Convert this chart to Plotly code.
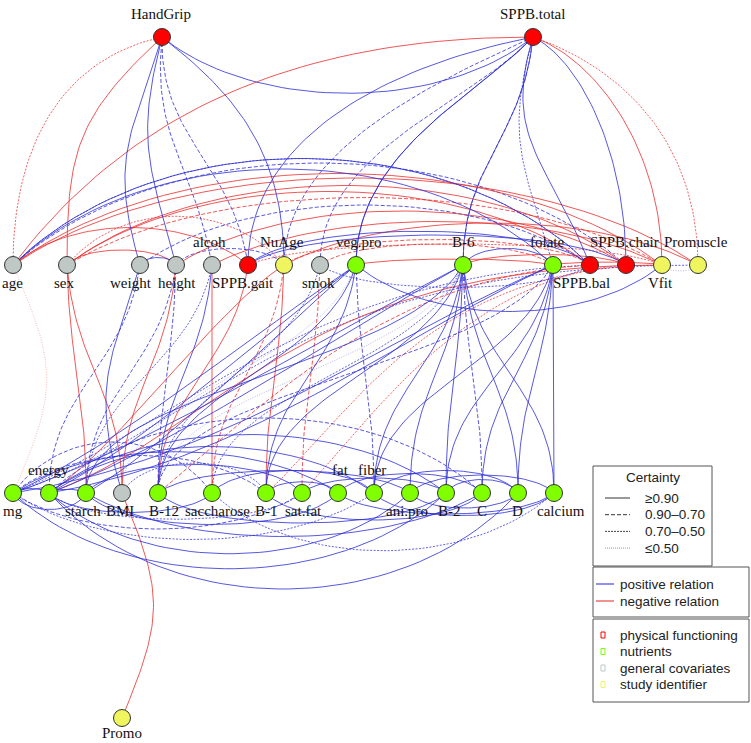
import numpy as np
import plotly.graph_objects as go

# ---------------- data ----------------
NODES = ["HandGrip", "SPPB.total",
         "age", "sex", "weight", "height", "alcoh", "SPPB.gait", "NuAge", "smok",
         "veg.pro", "B-6", "folate", "SPPB.bal", "SPPB.chair", "Vfit", "Promuscle",
         "mg", "energy", "starch", "BMI", "B-12", "saccharose", "B-1", "sat.fat",
         "fat", "fiber", "ani.pro", "B-2", "C", "D", "calcium", "Promo"]
NODE_GROUP = ["pf", "pf",
              "cov", "cov", "cov", "cov", "cov", "pf", "study", "cov",
              "nut", "nut", "nut", "pf", "pf", "study", "study",
              "nut", "nut", "nut", "cov", "nut", "nut", "nut", "nut",
              "nut", "nut", "nut", "nut", "nut", "nut", "nut", "study"]
# layout coordinates of the network drawing
NODE_X = [162, 533,
          13, 67, 140, 176, 212, 248, 284, 320, 356, 463, 553, 590, 626, 662, 698,
          13, 49, 86, 122, 158, 212, 266, 302, 338, 374, 410, 446, 482, 518, 554, 122]
NODE_Y = [37, 37] + [265] * 15 + [493] * 15 + [718]
LABEL_SIDE = ["top", "top",
              "bottom", "bottom", "bottom", "bottom", "top", "bottom", "top", "bottom",
              "top", "top", "top", "bottom", "top", "bottom", "top",
              "bottom", "top", "bottom", "bottom", "bottom", "bottom", "bottom", "bottom",
              "top", "top", "bottom", "bottom", "bottom", "bottom", "bottom", "bottom"]
LABEL_DX = [-1, -1,
            -1, -3, -9, 1, -3, -5, -2, -2, 2, 0, -6, -9, -2, -2, -2,
            0, -1, -3, -2, 6, 5, 0, 1, 2, -2, -3, 3, 0, -1, 7, 0]

# edges: from, to, sign (+1 positive / -1 negative), certainty class
# certainty class: 0 = >=0.90, 1 = 0.90-0.70, 2 = 0.70-0.50, 3 = <=0.50
EDGE_FROM = []
EDGE_TO = []
EDGE_SIGN = []
EDGE_CERT = []
_edges = [
    # HandGrip
    ("HandGrip", "age", -1, 2), ("HandGrip", "sex", -1, 0), ("HandGrip", "weight", 1, 0),
    ("HandGrip", "height", 1, 0), ("HandGrip", "alcoh", 1, 1), ("HandGrip", "SPPB.gait", 1, 1),
    ("HandGrip", "NuAge", 1, 0), ("HandGrip", "SPPB.total", 1, 0),
    # SPPB.total
    ("SPPB.total", "age", -1, 0), ("SPPB.total", "SPPB.gait", 1, 0), ("SPPB.total", "NuAge", 1, 1),
    ("SPPB.total", "smok", 1, 1), ("SPPB.total", "veg.pro", 1, 0), ("SPPB.total", "veg.pro", 1, 0),
    ("SPPB.total", "B-6", 1, 1), ("SPPB.total", "folate", 1, 2), ("SPPB.total", "SPPB.bal", 1, 0),
    ("SPPB.total", "SPPB.chair", 1, 0), ("SPPB.total", "Vfit", -1, 0), ("SPPB.total", "Promuscle", -1, 2),
    ("SPPB.total", "B-6", 1, 0),
    # middle row arcs
    ("age", "SPPB.bal", 1, 2), ("age", "SPPB.chair", 1, 1), ("age", "Vfit", -1, 0),
    ("age", "Promuscle", -1, 0), ("age", "SPPB.gait", -1, 0), ("age", "folate", 1, 0),
    ("age", "SPPB.bal", 1, 0), ("sex", "SPPB.chair", -1, 0), ("sex", "SPPB.bal", -1, 0),
    ("sex", "NuAge", -1, 2), ("sex", "Vfit", -1, 1), ("sex", "height", -1, 0),
    ("weight", "SPPB.bal", 1, 1), ("weight", "height", 1, 0), ("height", "SPPB.chair", -1, 0),
    ("alcoh", "Vfit", -1, 0), ("SPPB.gait", "SPPB.chair", 1, 0), ("SPPB.gait", "SPPB.bal", 1, 0),
    ("NuAge", "SPPB.bal", -1, 1), ("smok", "folate", -1, 1), ("veg.pro", "folate", -1, 0),
    ("B-6", "folate", 1, 0), ("veg.pro", "Vfit", 1, 0), ("smok", "SPPB.bal", 1, 2),
    ("folate", "Vfit", -1, 0), ("Vfit", "Promuscle", 1, 3), ("B-6", "SPPB.chair", -1, 0),
    ("NuAge", "Promuscle", -1, 0), ("SPPB.gait", "Vfit", -1, 2), ("height", "NuAge", 1, 1),
    # middle -> bottom
    ("age", "mg", -1, 3), ("sex", "starch", -1, 0), ("sex", "BMI", -1, 0),
    ("weight", "BMI", 1, 0), ("height", "BMI", -1, 0), ("height", "B-12", 1, 1),
    ("weight", "energy", 1, 1), ("height", "starch", 1, 1), ("alcoh", "B-12", 1, 0),
    ("SPPB.gait", "B-12", -1, 0), ("alcoh", "saccharose", -1, 0), ("NuAge", "saccharose", -1, 1),
    ("NuAge", "B-1", -1, 0), ("smok", "sat.fat", -1, 1), ("NuAge", "energy", -1, 0),
    ("Vfit", "energy", -1, 0), ("Vfit", "B-1", -1, 2), ("SPPB.bal", "B-12", -1, 1),
    ("veg.pro", "mg", 1, 0), ("veg.pro", "energy", 1, 0), ("veg.pro", "starch", 1, 0),
    ("veg.pro", "B-12", 1, 0), ("veg.pro", "fiber", 1, 1), ("veg.pro", "B-1", 1, 0),
    ("veg.pro", "BMI", 1, 3), ("smok", "B-12", 1, 2), ("alcoh", "starch", 1, 2),
    ("B-6", "mg", 1, 0), ("B-6", "energy", 1, 0), ("B-6", "starch", 1, 0),
    ("B-6", "B-12", 1, 3), ("B-6", "B-1", 1, 0), ("B-6", "fiber", 1, 0),
    ("B-6", "ani.pro", 1, 0), ("B-6", "B-2", 1, 0), ("B-6", "C", 1, 1),
    ("B-6", "D", 1, 0), ("B-6", "calcium", 1, 0), ("B-6", "saccharose", 1, 2),
    ("folate", "mg", 1, 0), ("folate", "energy", 1, 0), ("folate", "fiber", 1, 0),
    ("folate", "C", 1, 0), ("folate", "D", 1, 0), ("folate", "B-2", 1, 0),
    ("folate", "calcium", 1, 0), ("folate", "B-12", 1, 1), ("SPPB.bal", "mg", 1, 2),
    ("SPPB.chair", "sat.fat", -1, 2), ("Promuscle", "mg", 1, 2),
    # bottom row arcs (above)
    ("mg", "fat", 1, 0), ("energy", "fiber", 1, 0), ("energy", "C", 1, 1),
    ("starch", "sat.fat", 1, 0), ("mg", "B-1", 1, 1), ("energy", "B-2", 1, 0),
    ("B-12", "ani.pro", 1, 0), ("saccharose", "fiber", 1, 0), ("fat", "C", 1, 0),
    ("fiber", "D", 1, 0), ("ani.pro", "calcium", 1, 0), ("B-1", "fat", 1, 0),
    ("sat.fat", "B-2", 1, 0), ("B-2", "D", 1, 0), ("mg", "energy", 1, 0),
    ("energy", "starch", 1, 0), ("mg", "saccharose", 1, 1), ("BMI", "B-1", 1, 2),
    # bottom row arcs (below)
    ("energy", "D", 1, 0), ("mg", "B-2", 1, 0), ("energy", "ani.pro", 1, 0),
    ("saccharose", "calcium", 1, 2), ("starch", "C", 1, 0), ("mg", "starch", 1, 0),
    ("mg", "sat.fat", 1, 1), ("B-12", "B-2", 1, 0), ("fiber", "calcium", 1, 0),
    ("B-1", "C", 1, 0), ("fat", "calcium", 1, 0), ("mg", "fiber", 1, 2),
    ("energy", "saccharose", 1, 0), ("starch", "fat", 1, 0), ("energy", "sat.fat", 1, 2),
    ("ani.pro", "D", 1, 0),
    # Promo
    ("BMI", "Promo", -1, 0),
]
for _f, _t, _s, _c in _edges:
    EDGE_FROM.append(_f); EDGE_TO.append(_t); EDGE_SIGN.append(_s); EDGE_CERT.append(_c)

CERT_LABELS = ["≥0.90", "0.90–0.70", "0.70–0.50", "≤0.50"]
SIGN_LABELS = ["positive relation", "negative relation"]
GROUP_LABELS = ["physical functioning", "nutrients", "general covariates", "study identifier"]
GROUP_KEYS = ["pf", "nut", "cov", "study"]

# ---------------- styles ----------------
GROUP_COLOR = {"pf": "#FF0000", "nut": "#7FFF00", "cov": "#BFC8C4", "study": "#EEF55E"}
POS_COLOR = "rgba(45,45,215,{a})"
NEG_COLOR = "rgba(235,45,45,{a})"
CERT_DASH = ["solid", "4px,2px", "2px,1.5px", "1px,1.5px"]
CERT_ALPHA = [0.8, 0.8, 0.75, 0.35]

# curve shape overrides (a1, b1, a2, b2, u) for cross-row edges
SHAPE = {
    ("HandGrip", "age"): (0.7, 0.1, 0.0, 0.5, 0),
    ("HandGrip", "sex"): (0.9, 0.35, 0.0, 0.5, 0),
    ("HandGrip", "weight"): (0.15, 0.45, 0.0, 0.45, -30),
    ("HandGrip", "height"): (0.15, 0.45, 0.0, 0.45, -28),
    ("HandGrip", "alcoh"): (0.15, 0.45, 0.0, 0.45, -18),
    ("HandGrip", "SPPB.gait"): (0.15, 0.45, 0.0, 0.45, -15),
    ("HandGrip", "NuAge"): (0.6, 0.25, 0.0, 0.5, 0),
    ("SPPB.total", "age"): (0.5, 0.0, 0.2, 0.6, 0),
    ("SPPB.total", "SPPB.gait"): (0.6, 0.15, 0.0, 0.5, 0),
    ("SPPB.total", "NuAge"): (0.4, 0.2, 0.0, 0.5, 0),
    ("SPPB.total", "smok"): (0.3, 0.3, 0.0, 0.5, 0),
    ("SPPB.total", "veg.pro"): (0.3, 0.25, 0.0, 0.5, 0),
    ("SPPB.total", "SPPB.bal"): (0.15, 0.45, 0.0, 0.45, -40),
    ("SPPB.total", "SPPB.chair"): (0.5, 0.1, 0.0, 0.5, 0),
    ("SPPB.total", "Vfit"): (0.5, 0.1, 0.0, 0.5, 0),
    ("SPPB.total", "Promuscle"): (0.6, 0.15, 0.0, 0.5, 0),
    ("SPPB.total", "folate"): (0.1, 0.45, 0.0, 0.45, -30),
    ("age", "mg"): (0.0, 0.45, 0.0, 0.45, 45),
    ("weight", "BMI"): (0.15, 0.45, 0.0, 0.45, -30),
    ("BMI", "Promo"): (0.0, 0.45, 0.0, 0.45, 42),
    ("NuAge", "energy"): (0.3, 0.2, 0.3, 0.2, 0),
    ("Vfit", "energy"): (0.6, 0.0, 0.3, 0.3, 0),
    ("Vfit", "B-1"): (0.6, 0.0, 0.2, 0.3, 0),
    ("SPPB.bal", "mg"): (0.5, 0.05, 0.3, 0.3, 0),
    ("Promuscle", "mg"): (0.6, 0.0, 0.3, 0.3, 0),
    ("SPPB.bal", "B-12"): (0.5, 0.05, 0.2, 0.3, 0),
    ("SPPB.chair", "sat.fat"): (0.5, 0.05, 0.2, 0.3, 0),
    ("veg.pro", "mg"): (0.3, 0.3, 0.3, 0.2, 0),
    ("veg.pro", "energy"): (0.3, 0.3, 0.3, 0.2, 0),
    ("veg.pro", "starch"): (0.3, 0.3, 0.3, 0.2, 0),
    ("B-6", "mg"): (0.3, 0.3, 0.3, 0.2, 0),
    ("B-6", "energy"): (0.3, 0.3, 0.3, 0.2, 0),
    ("folate", "mg"): (0.3, 0.3, 0.4, 0.15, 0),
    ("folate", "energy"): (0.3, 0.3, 0.4, 0.15, 0),
}
# arc heights for same-row edges (positive = above, negative = below)
ARC_H = {
    ("HandGrip", "SPPB.total"): -75,
    ("age", "SPPB.bal"): 142, ("age", "SPPB.chair"): 136, ("age", "Vfit"): 122,
    ("age", "Promuscle"): 116, ("age", "SPPB.gait"): 50, ("age", "folate"): 128,
    ("sex", "SPPB.chair"): 106, ("sex", "SPPB.bal"): 98, ("sex", "NuAge"): 65,
    ("sex", "Vfit"): 90, ("sex", "height"): 20, ("weight", "SPPB.bal"): 80,
    ("weight", "height"): 10, ("height", "SPPB.chair"): 72, ("alcoh", "Vfit"): 58,
    ("SPPB.gait", "SPPB.chair"): 40, ("SPPB.gait", "SPPB.bal"): 45, ("NuAge", "SPPB.bal"): 34,
    ("smok", "folate"): 28, ("veg.pro", "folate"): 8, ("B-6", "folate"): 22,
    ("veg.pro", "Vfit"): -62, ("smok", "SPPB.bal"): -30, ("folate", "Vfit"): 4,
    ("Vfit", "Promuscle"): -8, ("B-6", "SPPB.chair"): 14, ("NuAge", "Promuscle"): 56,
    ("SPPB.gait", "Vfit"): 28, ("height", "NuAge"): 22,
    ("mg", "fat"): 55, ("energy", "fiber"): 62, ("energy", "C"): 100, ("starch", "sat.fat"): 38,
    ("mg", "B-1"): 50, ("energy", "B-2"): 78, ("B-12", "ani.pro"): 30, ("saccharose", "fiber"): 30,
    ("fat", "C"): 26, ("fiber", "D"): 30, ("ani.pro", "calcium"): 24, ("B-1", "fat"): 15,
    ("sat.fat", "B-2"): 20, ("B-2", "D"): 18, ("mg", "energy"): 6, ("energy", "starch"): 5,
    ("mg", "saccharose"): 68, ("BMI", "B-1"): 40,
    ("energy", "D"): -128, ("mg", "B-2"): -101, ("energy", "ani.pro"): -81,
    ("saccharose", "calcium"): -77, ("starch", "C"): -58, ("mg", "starch"): -22,
    ("mg", "sat.fat"): -48, ("B-12", "B-2"): -40, ("fiber", "calcium"): -30,
    ("B-1", "C"): -36, ("fat", "calcium"): -28, ("mg", "fiber"): -62,
    ("energy", "saccharose"): -26, ("starch", "fat"): -42, ("energy", "sat.fat"): -35,
    ("ani.pro", "D"): -20,
}

POS = {n: (x, y) for n, x, y in zip(NODES, NODE_X, NODE_Y)}


def bezier(p0, c1, c2, p3, n=48):
    t = np.linspace(0, 1, n)[:, None]
    pts = ((1 - t) ** 3) * np.array(p0) + 3 * ((1 - t) ** 2) * t * np.array(c1) \
        + 3 * (1 - t) * t ** 2 * np.array(c2) + t ** 3 * np.array(p3)
    return pts[:, 0], pts[:, 1]


def edge_curve(src, dst):
    x1, y1 = POS[src]
    x2, y2 = POS[dst]
    if abs(y1 - y2) < 1:
        h = ARC_H.get((src, dst), ARC_H.get((dst, src), 30))
        dx = x2 - x1
        k = 0.25 if abs(h) > 45 else 0.15
        c1 = (x1 + k * dx, y1 - h)
        c2 = (x2 - k * dx, y2 - h)
        return bezier((x1, y1), c1, c2, (x2, y2))
    key = (src, dst)
    if y1 > y2:
        src, dst = dst, src
        x1, y1, x2, y2 = x2, y2, x1, y1
    a1, b1, a2, b2, u = SHAPE.get(key, SHAPE.get((dst, src), (0.15, 0.45, 0.0, 0.45, 0)))
    dx, dy = x2 - x1, y2 - y1
    c1 = (x1 + a1 * dx + u, y1 + b1 * dy)
    c2 = (x2 - a2 * dx + u, y2 - b2 * dy)
    return bezier((x1, y1), c1, c2, (x2, y2))


fig = go.Figure()

# group edges by style
groups = {}
for f, t, s, c in zip(EDGE_FROM, EDGE_TO, EDGE_SIGN, EDGE_CERT):
    xs, ys = edge_curve(f, t)
    g = groups.setdefault((s, c), ([], []))
    g[0].extend(list(xs) + [None])
    g[1].extend(list(ys) + [None])

for (s, c), (xs, ys) in sorted(groups.items(), key=lambda kv: -kv[0][1]):
    col = (POS_COLOR if s > 0 else NEG_COLOR).format(a=CERT_ALPHA[c])
    fig.add_trace(go.Scatter(x=xs, y=ys, mode="lines", hoverinfo="skip",
                             line=dict(color=col, width=1.0, dash=CERT_DASH[c]),
                             showlegend=False))

# nodes
fig.add_trace(go.Scatter(
    x=NODE_X, y=NODE_Y, mode="markers", hoverinfo="text", text=NODES,
    marker=dict(size=17, color=[GROUP_COLOR[g] for g in NODE_GROUP],
                line=dict(color="#333333", width=1)),
    showlegend=False))

# node labels
for n, x, y, side, ddx in zip(NODES, NODE_X, NODE_Y, LABEL_SIDE, LABEL_DX):
    if side == "top":
        fig.add_annotation(x=x + ddx, y=y - 13, text=n, showarrow=False, yanchor="bottom",
                           xanchor="center", font=dict(family="Liberation Serif", size=15, color="#111"))
    else:
        off = 5 if n == "Promo" else 8
        fig.add_annotation(x=x + ddx, y=y + off, text=n, showarrow=False, yanchor="top",
                           xanchor="center", font=dict(family="Liberation Serif", size=15, color="#111"))

# ---------------- legend boxes ----------------
LEG_FONT = dict(family="Liberation Sans", size=13.5, color="#222")
shapes = []
shapes.append(dict(type="rect", x0=593, x1=712, y0=466, y1=566, line=dict(color="#555", width=1),
                   fillcolor="white", layer="above"))
shapes.append(dict(type="rect", x0=593, x1=749, y0=567, y1=617, line=dict(color="#555", width=1),
                   fillcolor="white", layer="above"))
shapes.append(dict(type="rect", x0=593, x1=749, y0=619, y1=702, line=dict(color="#555", width=1),
                   fillcolor="white", layer="above"))
fig.add_annotation(x=653, y=477, text="Certainty", showarrow=False, font=LEG_FONT,
                   xanchor="center", yanchor="middle")
leg_dash = ["solid", "4px,2px", "2px,1px", "1px,1px"]
leg_col = ["#333", "#333", "#444", "#999"]
for i, lab in enumerate(CERT_LABELS):
    yy = 498 + i * 16.7
    shapes.append(dict(type="line", x0=605, x1=630, y0=yy, y1=yy,
                       line=dict(color=leg_col[i], width=1, dash=leg_dash[i]), layer="above"))
    fig.add_annotation(x=643, y=yy, text=lab, showarrow=False, font=LEG_FONT,
                       xanchor="left", yanchor="middle")
for i, lab in enumerate(SIGN_LABELS):
    yy = 584 + i * 17
    col = "rgb(70,70,230)" if i == 0 else "rgb(235,70,70)"
    shapes.append(dict(type="line", x0=596, x1=614, y0=yy, y1=yy,
                       line=dict(color=col, width=1.2), layer="above"))
    fig.add_annotation(x=618, y=yy, text=lab, showarrow=False, font=LEG_FONT,
                       xanchor="left", yanchor="middle")
for i, lab in enumerate(GROUP_LABELS):
    yy = 635 + i * 16.5
    col = GROUP_COLOR[GROUP_KEYS[i]]
    shapes.append(dict(type="rect", x0=601, x1=605, y0=yy - 3, y1=yy + 3,
                       line=dict(color=col, width=1), fillcolor="rgba(255,255,255,0)", layer="above"))
    fig.add_annotation(x=618, y=yy, text=lab, showarrow=False, font=LEG_FONT,
                       xanchor="left", yanchor="middle")

fig.update_layout(
    width=751, height=743, margin=dict(l=0, r=0, t=0, b=0),
    paper_bgcolor="white", plot_bgcolor="white", shapes=shapes,
    xaxis=dict(range=[0, 751], visible=False, fixedrange=True),
    yaxis=dict(range=[743, 0], visible=False, fixedrange=True),
    showlegend=False,
)
fig.write_html("out.html", config={"displayModeBar": False, "staticPlot": True},
               post_script="document.body.style.margin='0px';document.body.style.overflow='hidden';")
